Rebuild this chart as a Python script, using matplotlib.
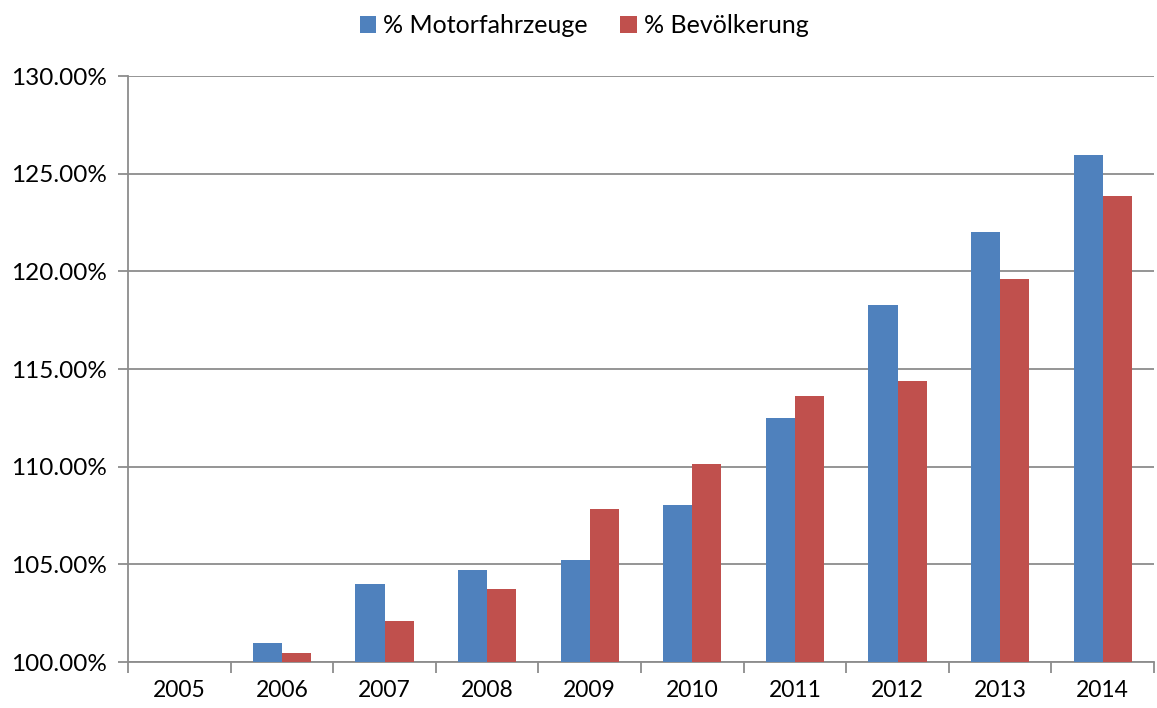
import matplotlib
matplotlib.use("Agg")
import matplotlib.pyplot as plt
import numpy as np
from matplotlib.ticker import FuncFormatter, MultipleLocator

plt.rcParams['font.family'] = ['Lato', 'DejaVu Sans']

years = ['2005', '2006', '2007', '2008', '2009', '2010', '2011', '2012', '2013', '2014']
motor = [100.0, 100.97, 104.0, 104.71, 105.22, 108.04, 112.49, 118.28, 122.02, 125.96]
bevoelk = [100.0, 100.46, 102.1, 103.74, 107.83, 110.14, 113.62, 114.39, 119.61, 123.86]

blue = '#4F81BD'
red = '#C0504D'
grid_c = '#8C8C8C'

fig = plt.figure(figsize=(11.57, 7.08), dpi=100)
ax = fig.add_axes([128/1157, 1 - 662/708, (1154-128)/1157, (662-76)/708])

x = np.arange(len(years))
w = 0.283
ax.bar(x - w/2, np.array(motor) - 100, w, bottom=100, color=blue, label='% Motorfahrzeuge', zorder=3)
ax.bar(x + w/2, np.array(bevoelk) - 100, w, bottom=100, color=red, label='% Bevölkerung', zorder=3)

ax.set_xlim(-0.5, len(years) - 0.5)
ax.set_ylim(100, 130)
ax.yaxis.set_major_locator(MultipleLocator(5))
ax.yaxis.set_major_formatter(FuncFormatter(lambda v, p: f'{v:.2f}%'))
ax.grid(axis='y', color=grid_c, linewidth=1.3, zorder=0)

ax.set_xticks(x)
ax.set_xticklabels(years)
ax.set_xticks(np.arange(len(years) + 1) - 0.5, minor=True)
ax.tick_params(axis='x', which='major', length=0, pad=13, labelsize=16.5)
ax.tick_params(axis='x', which='minor', length=8, color=grid_c, width=1.3)
ax.tick_params(axis='y', length=7, color=grid_c, width=1.3, labelsize=17.5, pad=8)

for s in ['top', 'right']:
    ax.spines[s].set_visible(False)
for s in ['left', 'bottom']:
    ax.spines[s].set_color(grid_c)
    ax.spines[s].set_linewidth(1.3)

fig.legend(loc='upper center', bbox_to_anchor=(0.505, 1.012), ncol=2, frameon=False,
           fontsize=18, handlelength=0.65, handleheight=0.65, handletextpad=0.3, columnspacing=1.3)

fig.savefig('out.png', dpi=100)
